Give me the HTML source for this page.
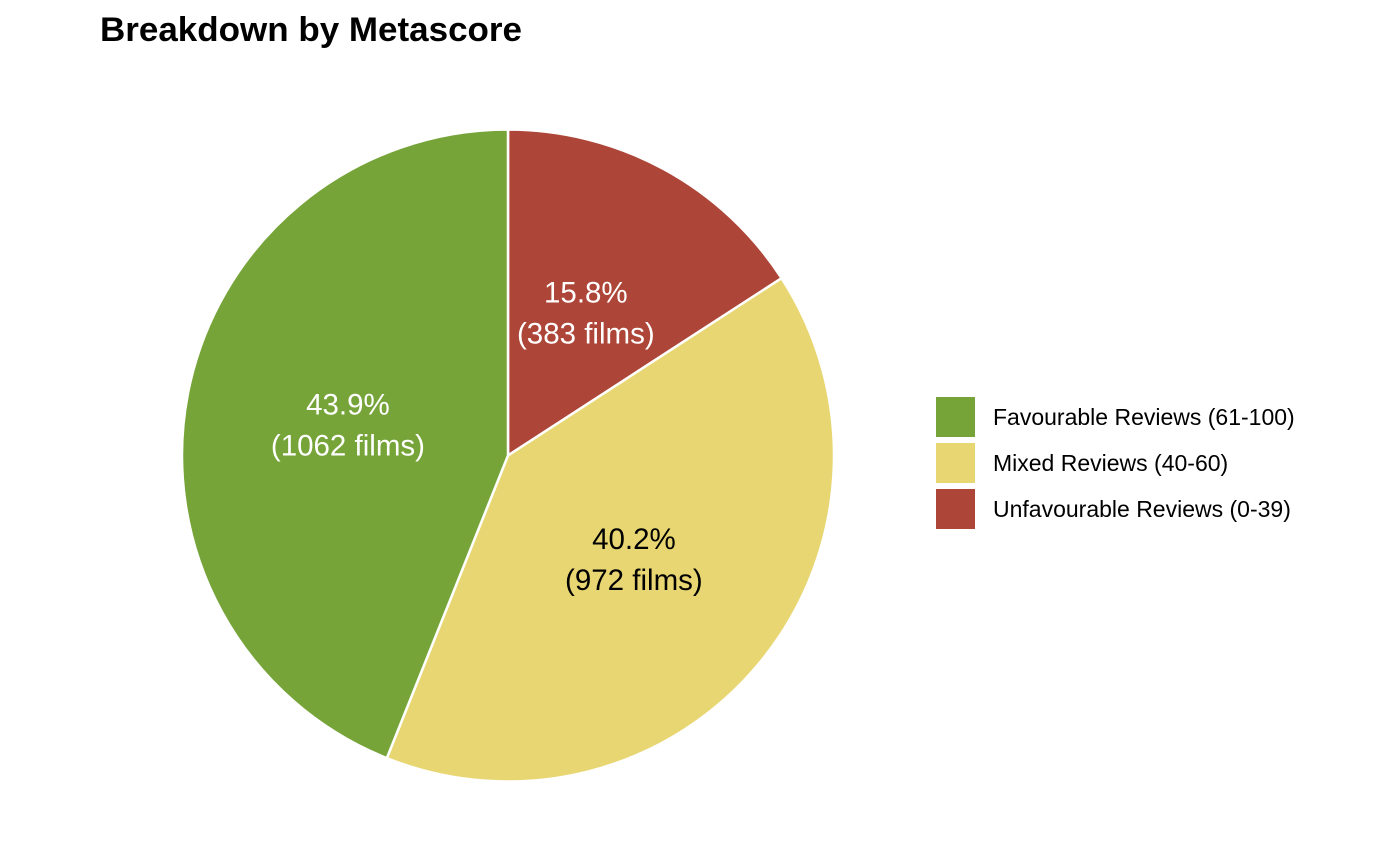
<!DOCTYPE html>
<html>
<head>
<meta charset="utf-8">
<style>
html,body{margin:0;padding:0;background:#fff;}
svg{display:block;font-family:"Liberation Sans",Arial,sans-serif;}
</style>
</head>
<body>
<svg id="chart" width="1400" height="865" viewBox="0 0 1400 865">
  <text x="100" y="41" font-size="34.5" font-weight="bold" fill="#000" textLength="422" lengthAdjust="spacingAndGlyphs">Breakdown by Metascore</text>
  <g id="slices"></g>
  <g id="labels"></g>
  <g id="legend"></g>
</svg>
<script>
const categories = ["Unfavourable Reviews (0-39)", "Mixed Reviews (40-60)", "Favourable Reviews (61-100)"];
const counts = [383, 972, 1062];
const colors = ["#ad4638", "#e8d672", "#76a439"];
const labelColors = ["#ffffff", "#000000", "#ffffff"];
const legendOrder = [2, 1, 0];

const NS = "http://www.w3.org/2000/svg";
const cx = 508, cy = 455.5, r = 326;
const total = counts.reduce((a, b) => a + b, 0);
const slices = document.getElementById("slices");
const labels = document.getElementById("labels");
const legend = document.getElementById("legend");

function pt(angle, rad) {
  return [cx + rad * Math.sin(angle), cy - rad * Math.cos(angle)];
}

let start = 0;
counts.forEach((c, i) => {
  const frac = c / total;
  const end = start + frac * 2 * Math.PI;
  const [x1, y1] = pt(start, r);
  const [x2, y2] = pt(end, r);
  const large = frac > 0.5 ? 1 : 0;
  const p = document.createElementNS(NS, "path");
  p.setAttribute("d", `M${cx},${cy} L${x1},${y1} A${r},${r} 0 ${large} 1 ${x2},${y2} Z`);
  p.setAttribute("fill", colors[i]);
  p.setAttribute("stroke", "#fff");
  p.setAttribute("stroke-width", "2.5");
  
  
  slices.appendChild(p);

  const mid = (start + end) / 2;
  const [lx, ly] = pt(mid, r / 2);
  const t1 = document.createElementNS(NS, "text");
  t1.setAttribute("x", lx);
  t1.setAttribute("y", ly - 10);
  t1.setAttribute("text-anchor", "middle");
  t1.setAttribute("font-size", "29.5");
  t1.setAttribute("fill", labelColors[i]);
  t1.textContent = (frac * 100).toFixed(1) + "%";
  
  
  labels.appendChild(t1);
  const t2 = document.createElementNS(NS, "text");
  t2.setAttribute("x", lx);
  t2.setAttribute("y", ly + 31);
  t2.setAttribute("text-anchor", "middle");
  t2.setAttribute("font-size", "29.5");
  t2.setAttribute("fill", labelColors[i]);
  t2.textContent = "(" + c + " films)";
  
  
  labels.appendChild(t2);
  start = end;
});

legendOrder.forEach((idx, k) => {
  const y = 397 + k * 46;
  const rect = document.createElementNS(NS, "rect");
  rect.setAttribute("x", 936);
  rect.setAttribute("y", y);
  rect.setAttribute("width", 39);
  rect.setAttribute("height", 40);
  rect.setAttribute("fill", colors[idx]);
  
  
  legend.appendChild(rect);
  const t = document.createElementNS(NS, "text");
  t.setAttribute("x", 993);
  t.setAttribute("y", y + 28);
  t.setAttribute("font-size", "23");
  t.setAttribute("fill", "#000");
  t.textContent = categories[idx];
  
  
  legend.appendChild(t);
});
</script>
</body>
</html>
